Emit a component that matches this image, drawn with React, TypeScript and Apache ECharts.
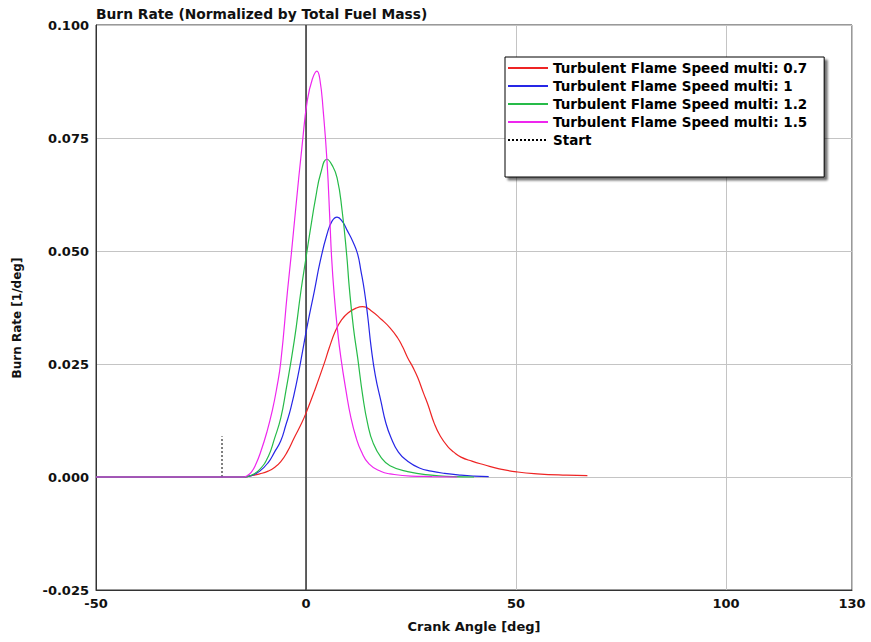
import React, { useEffect, useRef } from "react";
import * as echarts from "echarts";

const titleText = "Burn Rate (Normalized by Total Fuel Mass)";
const xAxisName = "Crank Angle [deg]";
const yAxisName = "Burn Rate [1/deg]";

const seriesNames = [
  "Turbulent Flame Speed multi: 0.7",
  "Turbulent Flame Speed multi: 1",
  "Turbulent Flame Speed multi: 1.2",
  "Turbulent Flame Speed multi: 1.5",
  "Start",
];
const seriesColors = ["#ee2424", "#2626e6", "#26bb48", "#ee26ee", "#000000"];

const multi07: [number, number][] = [
  [-50, 0], [-20, 0], [-15, 0], [-13, 0.0003], [-11, 0.0007], [-9, 0.0013], [-7.5, 0.0021],
  [-6, 0.0034], [-4.5, 0.0055], [-2.8, 0.0087], [-1, 0.012], [0.2, 0.0146], [2, 0.019],
  [4.4, 0.0253], [5.5, 0.0285], [7.1, 0.0325], [8.5, 0.0348], [10, 0.0363], [12, 0.0374],
  [13.5, 0.0377], [15.5, 0.0368], [17.9, 0.0349], [20, 0.033], [21.8, 0.0308], [23, 0.0288],
  [24.2, 0.0264], [25.5, 0.0242], [26.6, 0.022], [28, 0.0185], [29, 0.0161], [30.6, 0.0117],
  [32, 0.009], [33.7, 0.0068], [35.2, 0.0055], [36.9, 0.0044], [39.5, 0.0035], [42.4, 0.0027],
  [46, 0.0018], [50.4, 0.0011], [55, 0.0007], [62, 0.0004], [67, 0.0003],
];

const multi10: [number, number][] = [
  [-50, 0], [-20, 0], [-15, 0], [-13, 0.0003], [-11, 0.0013], [-9, 0.0032], [-7.5, 0.0055],
  [-6, 0.008], [-4.8, 0.0115], [-3.6, 0.0153], [-2, 0.022], [-0.8, 0.0279], [0.2, 0.033],
  [2, 0.0412], [3.4, 0.0478], [5, 0.0537], [6.2, 0.0566], [7.4, 0.0575], [8.6, 0.0566],
  [9.9, 0.0544], [11.2, 0.052], [12.3, 0.0493], [13.1, 0.0455], [13.9, 0.0412], [14.7, 0.0355],
  [15.5, 0.0288], [16.5, 0.0225], [17.9, 0.0165], [19, 0.012], [20.2, 0.0088], [22, 0.0055],
  [24.2, 0.0035], [27, 0.002], [29.8, 0.0013], [33, 0.0008], [36.9, 0.0004], [40, 0.0002],
  [43.5, 0.0001],
];

const multi12: [number, number][] = [
  [-50, 0], [-20, 0], [-15, 0], [-13, 0.0004], [-11, 0.0017], [-9, 0.0045], [-7.5, 0.0085],
  [-6, 0.0131], [-4.8, 0.019], [-2.8, 0.0301], [-1.2, 0.0412], [0, 0.0485], [1, 0.0545],
  [2.3, 0.0618], [3.5, 0.0672], [5, 0.0703], [6.2, 0.069], [7.4, 0.0662], [8.6, 0.0589],
  [9.7, 0.049], [10.3, 0.042], [11.3, 0.033], [12.3, 0.0264], [13.5, 0.018], [14.7, 0.0117],
  [16, 0.0075], [17.9, 0.0043], [20, 0.0025], [24.2, 0.0012], [29.8, 0.0004], [35, 0.0001],
  [40, 0],
];

const multi15: [number, number][] = [
  [-50, 0], [-20, 0], [-15, 0], [-14, 0.0003], [-13, 0.0011], [-12, 0.0027], [-10.7, 0.0058],
  [-9.3, 0.01], [-8, 0.0148], [-7, 0.0195], [-6, 0.0255], [-4.4, 0.0412], [-3.5, 0.0493],
  [-2.5, 0.0589], [-0.9, 0.0736], [0.3, 0.0832], [1.5, 0.088], [2.6, 0.0898], [3.3, 0.088],
  [4.1, 0.081], [5, 0.0699], [5.7, 0.0565], [6.1, 0.0485], [6.7, 0.0405], [7.5, 0.0325],
  [8.3, 0.0264], [9.5, 0.0192], [10.7, 0.0131], [12, 0.0085], [13.1, 0.0058], [15, 0.0029],
  [17.9, 0.0012], [20, 0.0007], [25, 0.0002], [30, 0.0001], [36, 0],
];

const startLine: [number, number][] = [
  [-20, 0],
  [-20, 0.009],
];

const zeroLineX = 0;
const xMin = -50;
const xMax = 130;
const xInterval = 50;
const yMin = -0.025;
const yMax = 0.1;
const yInterval = 0.025;

export default function App() {
  const ref = useRef<HTMLDivElement>(null);
  useEffect(() => {
    if (!ref.current) return;
    const chart = echarts.init(ref.current, undefined, { renderer: "svg" });
    const curves = [multi07, multi10, multi12, multi15];
    const series: any[] = curves.map((d, i) => ({
      name: seriesNames[i],
      type: "line",
      data: d,
      symbol: "none",
      smooth: 0.5,
      lineStyle: { color: seriesColors[i], width: 1.2 },
      itemStyle: { color: seriesColors[i] },
      z: 3 + i,
    }));
    series.push({
      name: seriesNames[4],
      type: "line",
      data: startLine,
      symbol: "none",
      lineStyle: { color: "#000", width: 1, type: [2, 2] },
      itemStyle: { color: "#000" },
      z: 3,
      markLine: {
        silent: true,
        symbol: "none",
        label: { show: false },
        lineStyle: { color: "#333", width: 1.5, type: "solid" },
        data: [{ xAxis: zeroLineX }],
        z: 2,
      },
    });
    const bold13 = { fontSize: 13, fontWeight: "bold", fontFamily: "DejaVu Sans", color: "#111" };
    chart.setOption({
      animation: false,
      backgroundColor: "#fff",
      title: {
        text: titleText,
        left: 96,
        top: 7,
        padding: 0,
        textStyle: { ...bold13, fontSize: 13.8 },
      },
      graphic: [
        {
          type: "text",
          x: 17,
          y: 318,
          rotation: Math.PI / 2,
          style: {
            text: yAxisName,
            fill: "#111",
            font: "bold 12px 'DejaVu Sans'",
            align: "center",
            verticalAlign: "middle",
          },
        },
      ],
      grid: {
        left: 96,
        right: 19,
        top: 25,
        bottom: 52,
        show: true,
        borderColor: "#333",
        borderWidth: 1,
        backgroundColor: "#fff",
      },
      legend: {
        orient: "vertical",
        left: 505,
        top: 57,
        data: seriesNames,
        itemWidth: 40,
        itemHeight: 14,
        itemGap: 4,
        padding: [4, 17, 30, 2],
        backgroundColor: "#fff",
        borderColor: "#000",
        borderWidth: 1,
        shadowColor: "rgba(0,0,0,0.55)",
        shadowBlur: 2,
        shadowOffsetX: 3,
        shadowOffsetY: 3,
        itemStyle: { opacity: 0 },
        textStyle: { fontSize: 13.5, fontWeight: "bold", fontFamily: "DejaVu Sans", color: "#000" },
      },
      xAxis: {
        type: "value",
        min: xMin,
        max: xMax,
        interval: xInterval,
        name: xAxisName,
        nameLocation: "middle",
        nameGap: 30,
        nameTextStyle: bold13,
        axisLine: { show: true, onZero: false, lineStyle: { color: "#333" } },
        axisTick: { show: false },
        axisLabel: { ...bold13, margin: 7 },
        splitLine: { show: true, lineStyle: { color: "#c4c4c4", width: 1 } },
      },
      yAxis: {
        type: "value",
        min: yMin,
        max: yMax,
        interval: yInterval,
        axisLine: { show: true, onZero: false, lineStyle: { color: "#333" } },
        axisTick: { show: false },
        axisLabel: {
          ...bold13,
          margin: 7,
          formatter: (v: number) => v.toFixed(3),
        },
        splitLine: { show: true, lineStyle: { color: "#c4c4c4", width: 1 } },
      },
      series,
    });
    return () => chart.dispose();
  }, []);
  return (
    <div
      ref={ref}
      style={{ position: "fixed", left: 0, top: 0, width: 871, height: 642, background: "#fff" }}
    />
  );
}
